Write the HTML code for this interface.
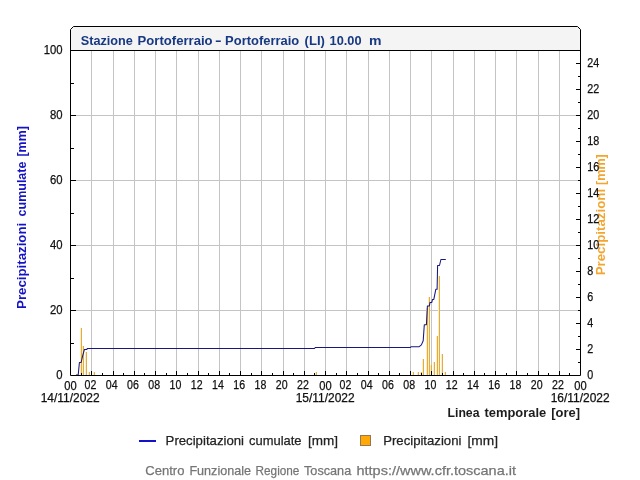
<!DOCTYPE html><html><head><meta charset="utf-8"><style>html,body{margin:0;padding:0;background:#fff;overflow:hidden}svg{display:block;will-change:transform;font-family:"Liberation Sans",sans-serif}</style></head><body>
<svg width="640" height="480" viewBox="0 0 640 480">
<rect width="640" height="480" fill="#fff"/>
<path d="M70.5,50.5 L70.5,29.5 L73.5,26.5 L577.5,26.5 L580.5,29.5 L580.5,50.5 Z" fill="#f4f4f4" stroke="none"/>
<path d="M91.5,50.5V375.5M113.5,50.5V375.5M134.5,50.5V375.5M155.5,50.5V375.5M176.5,50.5V375.5M198.5,50.5V375.5M219.5,50.5V375.5M240.5,50.5V375.5M261.5,50.5V375.5M283.5,50.5V375.5M304.5,50.5V375.5M325.5,50.5V375.5M346.5,50.5V375.5M368.5,50.5V375.5M389.5,50.5V375.5M410.5,50.5V375.5M431.5,50.5V375.5M453.5,50.5V375.5M474.5,50.5V375.5M495.5,50.5V375.5M516.5,50.5V375.5M538.5,50.5V375.5M559.5,50.5V375.5M70.5,310.5H580.5M70.5,245.5H580.5M70.5,180.5H580.5M70.5,115.5H580.5" stroke="#c4c4c4" stroke-width="1" fill="none" shape-rendering="crispEdges"/>
<path d="M80.5,328V375M82.5,346V375M85.5,352V375M88.5,372V375M93.5,372V375M315.5,372V375M412.5,372V375M417.5,372V375M420.5,372V375M422.5,359V375M426.5,308V375M428.5,297V375M430.5,365V375M433.5,362V375M436.5,336V375M438.5,276V375M441.5,354V375M444.5,372V375" stroke="#fdf0b6" stroke-width="1" fill="none" shape-rendering="crispEdges"/>
<path d="M81.5,328V375M83.5,346V375M86.5,352V375M89.5,372V375M94.5,372V375M316.5,372V375M413.5,372V375M418.5,372V375M421.5,372V375M423.5,359V375M427.5,308V375M429.5,297V375M431.5,365V375M434.5,362V375M437.5,336V375M439.5,276V375M442.5,354V375M445.5,372V375" stroke="#e3a94b" stroke-width="1" fill="none" shape-rendering="crispEdges"/>
<polyline points="76,375 78.2,375 79.4,362.5 81.1,362.5 82.7,355.6 84.4,349.5 86.8,349.5 87.3,348.5 314.5,348.5 315.3,347.5 410.2,347.5 411,346.8 419.2,346.7 421.4,344.9 423.2,340.8 424.3,324.7 426.4,324.7 427.4,305.9 429.4,305.9 430,302.4 431.8,302.4 432.5,299.4 433.8,299.4 435.8,289.3 437.1,289.3 437.6,265.5 439.5,265.5 440.9,259.5 445.8,259.5" fill="none" stroke="#17177f" stroke-width="1.05" stroke-linejoin="round"/>
<path d="M70.5,375.5 L70.5,29.5 L73.5,26.5 L577.5,26.5 L580.5,29.5 L580.5,375.5 Z M70.5,50.5H580.5" fill="none" stroke="#000" stroke-width="1"/>
<path d="M81.5,375.5v-3M91.5,375.5v-5M102.5,375.5v-3M113.5,375.5v-5M123.5,375.5v-3M134.5,375.5v-5M144.5,375.5v-3M155.5,375.5v-5M166.5,375.5v-3M176.5,375.5v-5M187.5,375.5v-3M198.5,375.5v-5M208.5,375.5v-3M219.5,375.5v-5M229.5,375.5v-3M240.5,375.5v-5M251.5,375.5v-3M261.5,375.5v-5M272.5,375.5v-3M283.5,375.5v-5M293.5,375.5v-3M304.5,375.5v-5M314.5,375.5v-3M325.5,375.5v-5M336.5,375.5v-3M346.5,375.5v-5M357.5,375.5v-3M368.5,375.5v-5M378.5,375.5v-3M389.5,375.5v-5M399.5,375.5v-3M410.5,375.5v-5M421.5,375.5v-3M431.5,375.5v-5M442.5,375.5v-3M453.5,375.5v-5M463.5,375.5v-3M474.5,375.5v-5M484.5,375.5v-3M495.5,375.5v-5M506.5,375.5v-3M516.5,375.5v-5M527.5,375.5v-3M538.5,375.5v-5M548.5,375.5v-3M559.5,375.5v-5M569.5,375.5v-3M70.5,343.5h3M70.5,310.5h5M70.5,278.5h3M70.5,245.5h5M70.5,213.5h3M70.5,180.5h5M70.5,148.5h3M70.5,115.5h5M70.5,83.5h3M580.5,362.5h-3M580.5,349.5h-5M580.5,336.5h-3M580.5,323.5h-5M580.5,310.5h-3M580.5,297.5h-5M580.5,284.5h-3M580.5,271.5h-5M580.5,258.5h-3M580.5,245.5h-5M580.5,232.5h-3M580.5,219.5h-5M580.5,206.5h-3M580.5,193.5h-5M580.5,180.5h-3M580.5,167.5h-5M580.5,154.5h-3M580.5,141.5h-5M580.5,128.5h-3M580.5,115.5h-5M580.5,102.5h-3M580.5,89.5h-5M580.5,76.5h-3M580.5,63.5h-5" stroke="#000" stroke-width="1" fill="none" shape-rendering="crispEdges"/>
<g transform="translate(26.2,309.2) rotate(-90)">
<text x="0.3" y="0" font-size="13.5" text-anchor="start" fill="#1414c4" font-weight="bold" textLength="86.1" lengthAdjust="spacingAndGlyphs">Precipitazioni</text>
<text x="92.8" y="0" font-size="13.5" text-anchor="start" fill="#1414c4" font-weight="bold" textLength="54.8" lengthAdjust="spacingAndGlyphs">cumulate</text>
<text x="152.6" y="0" font-size="13.5" text-anchor="start" fill="#1414c4" font-weight="bold" textLength="30.5" lengthAdjust="spacingAndGlyphs">[mm]</text>
</g>
<g transform="translate(605.2,275.5) rotate(-90)">
<text x="0.2" y="0" font-size="13.5" text-anchor="start" fill="#f2a630" font-weight="bold" textLength="86.4" lengthAdjust="spacingAndGlyphs">Precipitazioni</text>
<text x="90.6" y="0" font-size="13.5" text-anchor="start" fill="#f2a630" font-weight="bold" textLength="30.7" lengthAdjust="spacingAndGlyphs">[mm]</text>
</g>
<text x="80.8" y="45.4" font-size="13.5" text-anchor="start" fill="#173882" font-weight="bold" textLength="52.1" lengthAdjust="spacingAndGlyphs">Stazione</text>
<text x="137.6" y="45.4" font-size="13.5" text-anchor="start" fill="#173882" font-weight="bold" textLength="75.0" lengthAdjust="spacingAndGlyphs">Portoferraio</text>
<text x="215.0" y="45.4" font-size="13.5" text-anchor="start" fill="#173882" font-weight="bold" textLength="6.6" lengthAdjust="spacingAndGlyphs">-</text>
<text x="225.1" y="45.4" font-size="13.5" text-anchor="start" fill="#173882" font-weight="bold" textLength="74.1" lengthAdjust="spacingAndGlyphs">Portoferraio</text>
<text x="304.6" y="45.4" font-size="13.5" text-anchor="start" fill="#173882" font-weight="bold" textLength="20.3" lengthAdjust="spacingAndGlyphs">(LI)</text>
<text x="329.6" y="45.4" font-size="13.5" text-anchor="start" fill="#173882" font-weight="bold" textLength="32.0" lengthAdjust="spacingAndGlyphs">10.00</text>
<text x="369.1" y="45.4" font-size="13.5" text-anchor="start" fill="#173882" font-weight="bold" textLength="12.5" lengthAdjust="spacingAndGlyphs">m</text>
<text x="56.300000000000004" y="379.3" font-size="12" text-anchor="start" fill="#111" stroke="#111" stroke-width="0.25" textLength="6.3" lengthAdjust="spacingAndGlyphs">0</text>
<text x="50.0" y="314.3" font-size="12" text-anchor="start" fill="#111" stroke="#111" stroke-width="0.25" textLength="12.6" lengthAdjust="spacingAndGlyphs">20</text>
<text x="50.0" y="249.3" font-size="12" text-anchor="start" fill="#111" stroke="#111" stroke-width="0.25" textLength="12.6" lengthAdjust="spacingAndGlyphs">40</text>
<text x="50.0" y="184.3" font-size="12" text-anchor="start" fill="#111" stroke="#111" stroke-width="0.25" textLength="12.6" lengthAdjust="spacingAndGlyphs">60</text>
<text x="50.0" y="119.3" font-size="12" text-anchor="start" fill="#111" stroke="#111" stroke-width="0.25" textLength="12.6" lengthAdjust="spacingAndGlyphs">80</text>
<text x="43.7" y="54.3" font-size="12" text-anchor="start" fill="#111" stroke="#111" stroke-width="0.25" textLength="18.9" lengthAdjust="spacingAndGlyphs">100</text>
<text x="587.3" y="379.3" font-size="12" text-anchor="start" fill="#111" stroke="#111" stroke-width="0.25" textLength="6" lengthAdjust="spacingAndGlyphs">0</text>
<text x="587.3" y="353.3" font-size="12" text-anchor="start" fill="#111" stroke="#111" stroke-width="0.25" textLength="6" lengthAdjust="spacingAndGlyphs">2</text>
<text x="587.3" y="327.3" font-size="12" text-anchor="start" fill="#111" stroke="#111" stroke-width="0.25" textLength="6" lengthAdjust="spacingAndGlyphs">4</text>
<text x="587.3" y="301.3" font-size="12" text-anchor="start" fill="#111" stroke="#111" stroke-width="0.25" textLength="6" lengthAdjust="spacingAndGlyphs">6</text>
<text x="587.3" y="275.3" font-size="12" text-anchor="start" fill="#111" stroke="#111" stroke-width="0.25" textLength="6" lengthAdjust="spacingAndGlyphs">8</text>
<text x="587.3" y="249.3" font-size="12" text-anchor="start" fill="#111" stroke="#111" stroke-width="0.25" textLength="12" lengthAdjust="spacingAndGlyphs">10</text>
<text x="587.3" y="223.3" font-size="12" text-anchor="start" fill="#111" stroke="#111" stroke-width="0.25" textLength="12" lengthAdjust="spacingAndGlyphs">12</text>
<text x="587.3" y="197.3" font-size="12" text-anchor="start" fill="#111" stroke="#111" stroke-width="0.25" textLength="12" lengthAdjust="spacingAndGlyphs">14</text>
<text x="587.3" y="171.3" font-size="12" text-anchor="start" fill="#111" stroke="#111" stroke-width="0.25" textLength="12" lengthAdjust="spacingAndGlyphs">16</text>
<text x="587.3" y="145.3" font-size="12" text-anchor="start" fill="#111" stroke="#111" stroke-width="0.25" textLength="12" lengthAdjust="spacingAndGlyphs">18</text>
<text x="587.3" y="119.3" font-size="12" text-anchor="start" fill="#111" stroke="#111" stroke-width="0.25" textLength="12" lengthAdjust="spacingAndGlyphs">20</text>
<text x="587.3" y="93.3" font-size="12" text-anchor="start" fill="#111" stroke="#111" stroke-width="0.25" textLength="12" lengthAdjust="spacingAndGlyphs">22</text>
<text x="587.3" y="67.3" font-size="12" text-anchor="start" fill="#111" stroke="#111" stroke-width="0.25" textLength="12" lengthAdjust="spacingAndGlyphs">24</text>
<text x="64.3" y="389.8" font-size="12" text-anchor="start" fill="#111" stroke="#111" stroke-width="0.25" textLength="12.4" lengthAdjust="spacingAndGlyphs">00</text>
<text x="84.55" y="388.8" font-size="12" text-anchor="start" fill="#111" stroke="#111" stroke-width="0.25" textLength="11.8" lengthAdjust="spacingAndGlyphs">02</text>
<text x="105.8" y="388.8" font-size="12" text-anchor="start" fill="#111" stroke="#111" stroke-width="0.25" textLength="11.8" lengthAdjust="spacingAndGlyphs">04</text>
<text x="127.05" y="388.8" font-size="12" text-anchor="start" fill="#111" stroke="#111" stroke-width="0.25" textLength="11.8" lengthAdjust="spacingAndGlyphs">06</text>
<text x="148.3" y="388.8" font-size="12" text-anchor="start" fill="#111" stroke="#111" stroke-width="0.25" textLength="11.8" lengthAdjust="spacingAndGlyphs">08</text>
<text x="169.55" y="388.8" font-size="12" text-anchor="start" fill="#111" stroke="#111" stroke-width="0.25" textLength="11.8" lengthAdjust="spacingAndGlyphs">10</text>
<text x="190.8" y="388.8" font-size="12" text-anchor="start" fill="#111" stroke="#111" stroke-width="0.25" textLength="11.8" lengthAdjust="spacingAndGlyphs">12</text>
<text x="212.05" y="388.8" font-size="12" text-anchor="start" fill="#111" stroke="#111" stroke-width="0.25" textLength="11.8" lengthAdjust="spacingAndGlyphs">14</text>
<text x="233.3" y="388.8" font-size="12" text-anchor="start" fill="#111" stroke="#111" stroke-width="0.25" textLength="11.8" lengthAdjust="spacingAndGlyphs">16</text>
<text x="254.55" y="388.8" font-size="12" text-anchor="start" fill="#111" stroke="#111" stroke-width="0.25" textLength="11.8" lengthAdjust="spacingAndGlyphs">18</text>
<text x="275.8" y="388.8" font-size="12" text-anchor="start" fill="#111" stroke="#111" stroke-width="0.25" textLength="11.8" lengthAdjust="spacingAndGlyphs">20</text>
<text x="297.05" y="388.8" font-size="12" text-anchor="start" fill="#111" stroke="#111" stroke-width="0.25" textLength="11.8" lengthAdjust="spacingAndGlyphs">22</text>
<text x="319.3" y="389.8" font-size="12" text-anchor="start" fill="#111" stroke="#111" stroke-width="0.25" textLength="12.4" lengthAdjust="spacingAndGlyphs">00</text>
<text x="339.55" y="388.8" font-size="12" text-anchor="start" fill="#111" stroke="#111" stroke-width="0.25" textLength="11.8" lengthAdjust="spacingAndGlyphs">02</text>
<text x="360.8" y="388.8" font-size="12" text-anchor="start" fill="#111" stroke="#111" stroke-width="0.25" textLength="11.8" lengthAdjust="spacingAndGlyphs">04</text>
<text x="382.05" y="388.8" font-size="12" text-anchor="start" fill="#111" stroke="#111" stroke-width="0.25" textLength="11.8" lengthAdjust="spacingAndGlyphs">06</text>
<text x="403.3" y="388.8" font-size="12" text-anchor="start" fill="#111" stroke="#111" stroke-width="0.25" textLength="11.8" lengthAdjust="spacingAndGlyphs">08</text>
<text x="424.55" y="388.8" font-size="12" text-anchor="start" fill="#111" stroke="#111" stroke-width="0.25" textLength="11.8" lengthAdjust="spacingAndGlyphs">10</text>
<text x="445.8" y="388.8" font-size="12" text-anchor="start" fill="#111" stroke="#111" stroke-width="0.25" textLength="11.8" lengthAdjust="spacingAndGlyphs">12</text>
<text x="467.05" y="388.8" font-size="12" text-anchor="start" fill="#111" stroke="#111" stroke-width="0.25" textLength="11.8" lengthAdjust="spacingAndGlyphs">14</text>
<text x="488.3" y="388.8" font-size="12" text-anchor="start" fill="#111" stroke="#111" stroke-width="0.25" textLength="11.8" lengthAdjust="spacingAndGlyphs">16</text>
<text x="509.55" y="388.8" font-size="12" text-anchor="start" fill="#111" stroke="#111" stroke-width="0.25" textLength="11.8" lengthAdjust="spacingAndGlyphs">18</text>
<text x="530.8" y="388.8" font-size="12" text-anchor="start" fill="#111" stroke="#111" stroke-width="0.25" textLength="11.8" lengthAdjust="spacingAndGlyphs">20</text>
<text x="552.05" y="388.8" font-size="12" text-anchor="start" fill="#111" stroke="#111" stroke-width="0.25" textLength="11.8" lengthAdjust="spacingAndGlyphs">22</text>
<text x="574.3" y="389.8" font-size="12" text-anchor="start" fill="#111" stroke="#111" stroke-width="0.25" textLength="12.4" lengthAdjust="spacingAndGlyphs">00</text>
<text x="40.7" y="402" font-size="12" text-anchor="start" fill="#111" stroke="#111" stroke-width="0.25" textLength="59" lengthAdjust="spacingAndGlyphs">14/11/2022</text>
<text x="295.7" y="402" font-size="12" text-anchor="start" fill="#111" stroke="#111" stroke-width="0.25" textLength="59" lengthAdjust="spacingAndGlyphs">15/11/2022</text>
<text x="550.7" y="402" font-size="12" text-anchor="start" fill="#111" stroke="#111" stroke-width="0.25" textLength="59" lengthAdjust="spacingAndGlyphs">16/11/2022</text>
<text x="447.5" y="417" font-size="13.5" text-anchor="start" fill="#1c1c1c" font-weight="bold" textLength="32.0" lengthAdjust="spacingAndGlyphs">Linea</text>
<text x="484.5" y="417" font-size="13.5" text-anchor="start" fill="#1c1c1c" font-weight="bold" textLength="61.7" lengthAdjust="spacingAndGlyphs">temporale</text>
<text x="551.2" y="417" font-size="13.5" text-anchor="start" fill="#1c1c1c" font-weight="bold" textLength="28.8" lengthAdjust="spacingAndGlyphs">[ore]</text>
<path d="M139,440.5H156" stroke="#1212cc" stroke-width="2" shape-rendering="crispEdges"/>
<text x="165.6" y="444.7" font-size="13.5" text-anchor="start" fill="#222" stroke="#222" stroke-width="0.25" textLength="78.4" lengthAdjust="spacingAndGlyphs">Precipitazioni</text>
<text x="249" y="444.7" font-size="13.5" text-anchor="start" fill="#222" stroke="#222" stroke-width="0.25" textLength="52.5" lengthAdjust="spacingAndGlyphs">cumulate</text>
<text x="308" y="444.7" font-size="13.5" text-anchor="start" fill="#222" stroke="#222" stroke-width="0.25" textLength="30" lengthAdjust="spacingAndGlyphs">[mm]</text>
<rect x="360.5" y="435.5" width="10" height="10" fill="#ffa808" stroke="#94794e" stroke-width="1"/>
<text x="383.2" y="444.7" font-size="13.5" text-anchor="start" fill="#222" stroke="#222" stroke-width="0.25" textLength="78.2" lengthAdjust="spacingAndGlyphs">Precipitazioni</text>
<text x="467.5" y="444.7" font-size="13.5" text-anchor="start" fill="#222" stroke="#222" stroke-width="0.25" textLength="30.5" lengthAdjust="spacingAndGlyphs">[mm]</text>
<text x="145.3" y="475" font-size="13.5" text-anchor="start" fill="#757575" stroke="#757575" stroke-width="0.25" textLength="39.1" lengthAdjust="spacingAndGlyphs">Centro</text>
<text x="189.4" y="475" font-size="13.5" text-anchor="start" fill="#757575" stroke="#757575" stroke-width="0.25" textLength="61.6" lengthAdjust="spacingAndGlyphs">Funzionale</text>
<text x="255.6" y="475" font-size="13.5" text-anchor="start" fill="#757575" stroke="#757575" stroke-width="0.25" textLength="43.8" lengthAdjust="spacingAndGlyphs">Regione</text>
<text x="304" y="475" font-size="13.5" text-anchor="start" fill="#757575" stroke="#757575" stroke-width="0.25" textLength="47.2" lengthAdjust="spacingAndGlyphs">Toscana</text>
<text x="356.5" y="475" font-size="13.5" text-anchor="start" fill="#757575" stroke="#757575" stroke-width="0.25" textLength="159.5" lengthAdjust="spacingAndGlyphs">https://www.cfr.toscana.it</text>
</svg></body></html>
